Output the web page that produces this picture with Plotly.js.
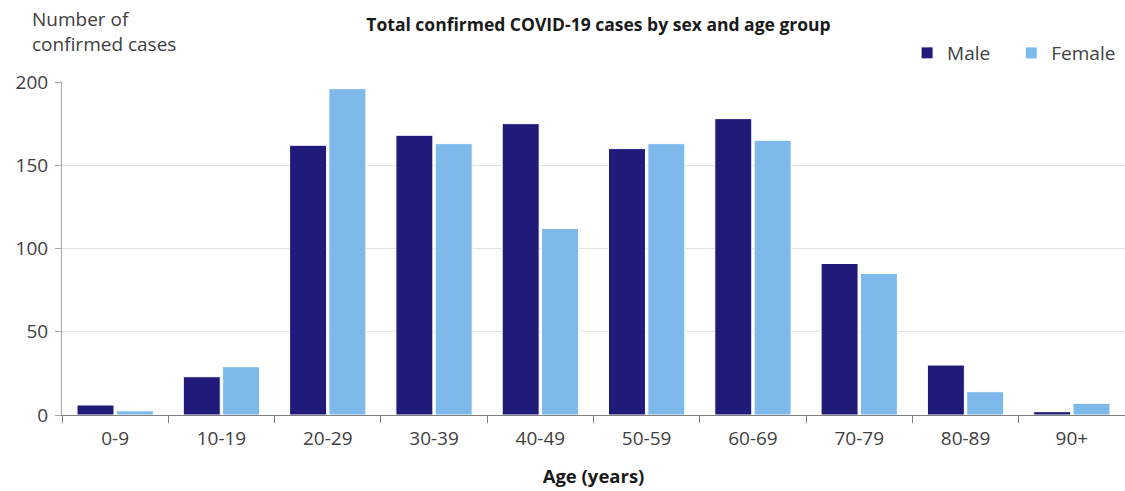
<!DOCTYPE html>
<html>
<head>
<meta charset="utf-8">
<script src="https://cdn.plot.ly/plotly-3.0.1.min.js"></script>
<style>html,body{margin:0;padding:0;background:#fff;}#chart{width:1125px;height:491px;}</style>
</head>
<body>
<div id="chart"></div>
<script>
const ageGroups = ["0-9","10-19","20-29","30-39","40-49","50-59","60-69","70-79","80-89","90+"];
const maleCases = [6, 23, 162, 168, 175, 160, 178, 91, 30, 2];
const femaleCases = [2.5, 29, 196, 163, 112, 163, 165, 85, 14, 7];
const yTicks = [0, 50, 100, 150, 200];

const FONT = "Open Sans, Liberation Sans, sans-serif";
const data = [
  {type:"bar", name:"Male", x:ageGroups, y:maleCases, legend:"legend",
   marker:{color:"#201b78", line:{color:"#ffffff", width:1}}, hoverinfo:"x+y"},
  {type:"bar", name:"Female", x:ageGroups, y:femaleCases, legend:"legend2",
   marker:{color:"#7db9ea", line:{color:"#ffffff", width:1}}, hoverinfo:"x+y"}
];
const legendBase = {orientation:"h", xanchor:"left", y:1.087, yanchor:"middle",
  font:{family:FONT, size:19, color:"#404040"}, itemwidth:30, bgcolor:"rgba(0,0,0,0)"};
const layout = {
  width:1125, height:491,
  margin:{l:62, r:0, t:82, b:76},
  paper_bgcolor:"#fff", plot_bgcolor:"#fff",
  barmode:"group", bargap:0.26, bargroupgap:0.06,
  font:{family:FONT, size:18, color:"#404040"},
  title:{text:"<b>Total confirmed COVID-19 cases by sex and age group</b>", x:0.532, xanchor:"center", y:0.95, yanchor:"middle",
         font:{family:FONT, size:17.5, color:"#1a1a1a"}},
  showlegend:true,
  legend:Object.assign({}, legendBase, {x:0.795}),
  legend2:Object.assign({}, legendBase, {x:0.893}),
  xaxis:{type:"category", showline:true, linecolor:"#808080", linewidth:1,
         ticks:"outside", tickson:"boundaries", ticklen:7, tickcolor:"#808080",
         ticklabelstandoff:6,
         tickfont:{family:FONT, size:19, color:"#404040"},
         title:{text:"<b>Age (years)</b>", font:{family:FONT, size:18.5, color:"#1a1a1a"}, standoff:20},
         showgrid:false, fixedrange:true},
  yaxis:{range:[0,200], tickvals:yTicks, showline:true, linecolor:"#a6a6a6", linewidth:1,
         ticks:"outside", ticklen:6, tickcolor:"#a6a6a6", ticklabelstandoff:3,
         showgrid:true, gridcolor:"#e3e3e3", gridwidth:1, zeroline:false,
         tickfont:{family:FONT, size:19, color:"#404040"}, fixedrange:true},
  annotations:[
    {text:"Number of<br>confirmed cases", xref:"paper", yref:"paper", x:-0.03, y:1.153,
     xanchor:"left", yanchor:"middle", align:"left", showarrow:false,
     font:{family:FONT, size:19, color:"#404040"}}
  ]
};
Plotly.newPlot("chart", data, layout, {displayModeBar:false, staticPlot:true});
</script>
</body>
</html>
